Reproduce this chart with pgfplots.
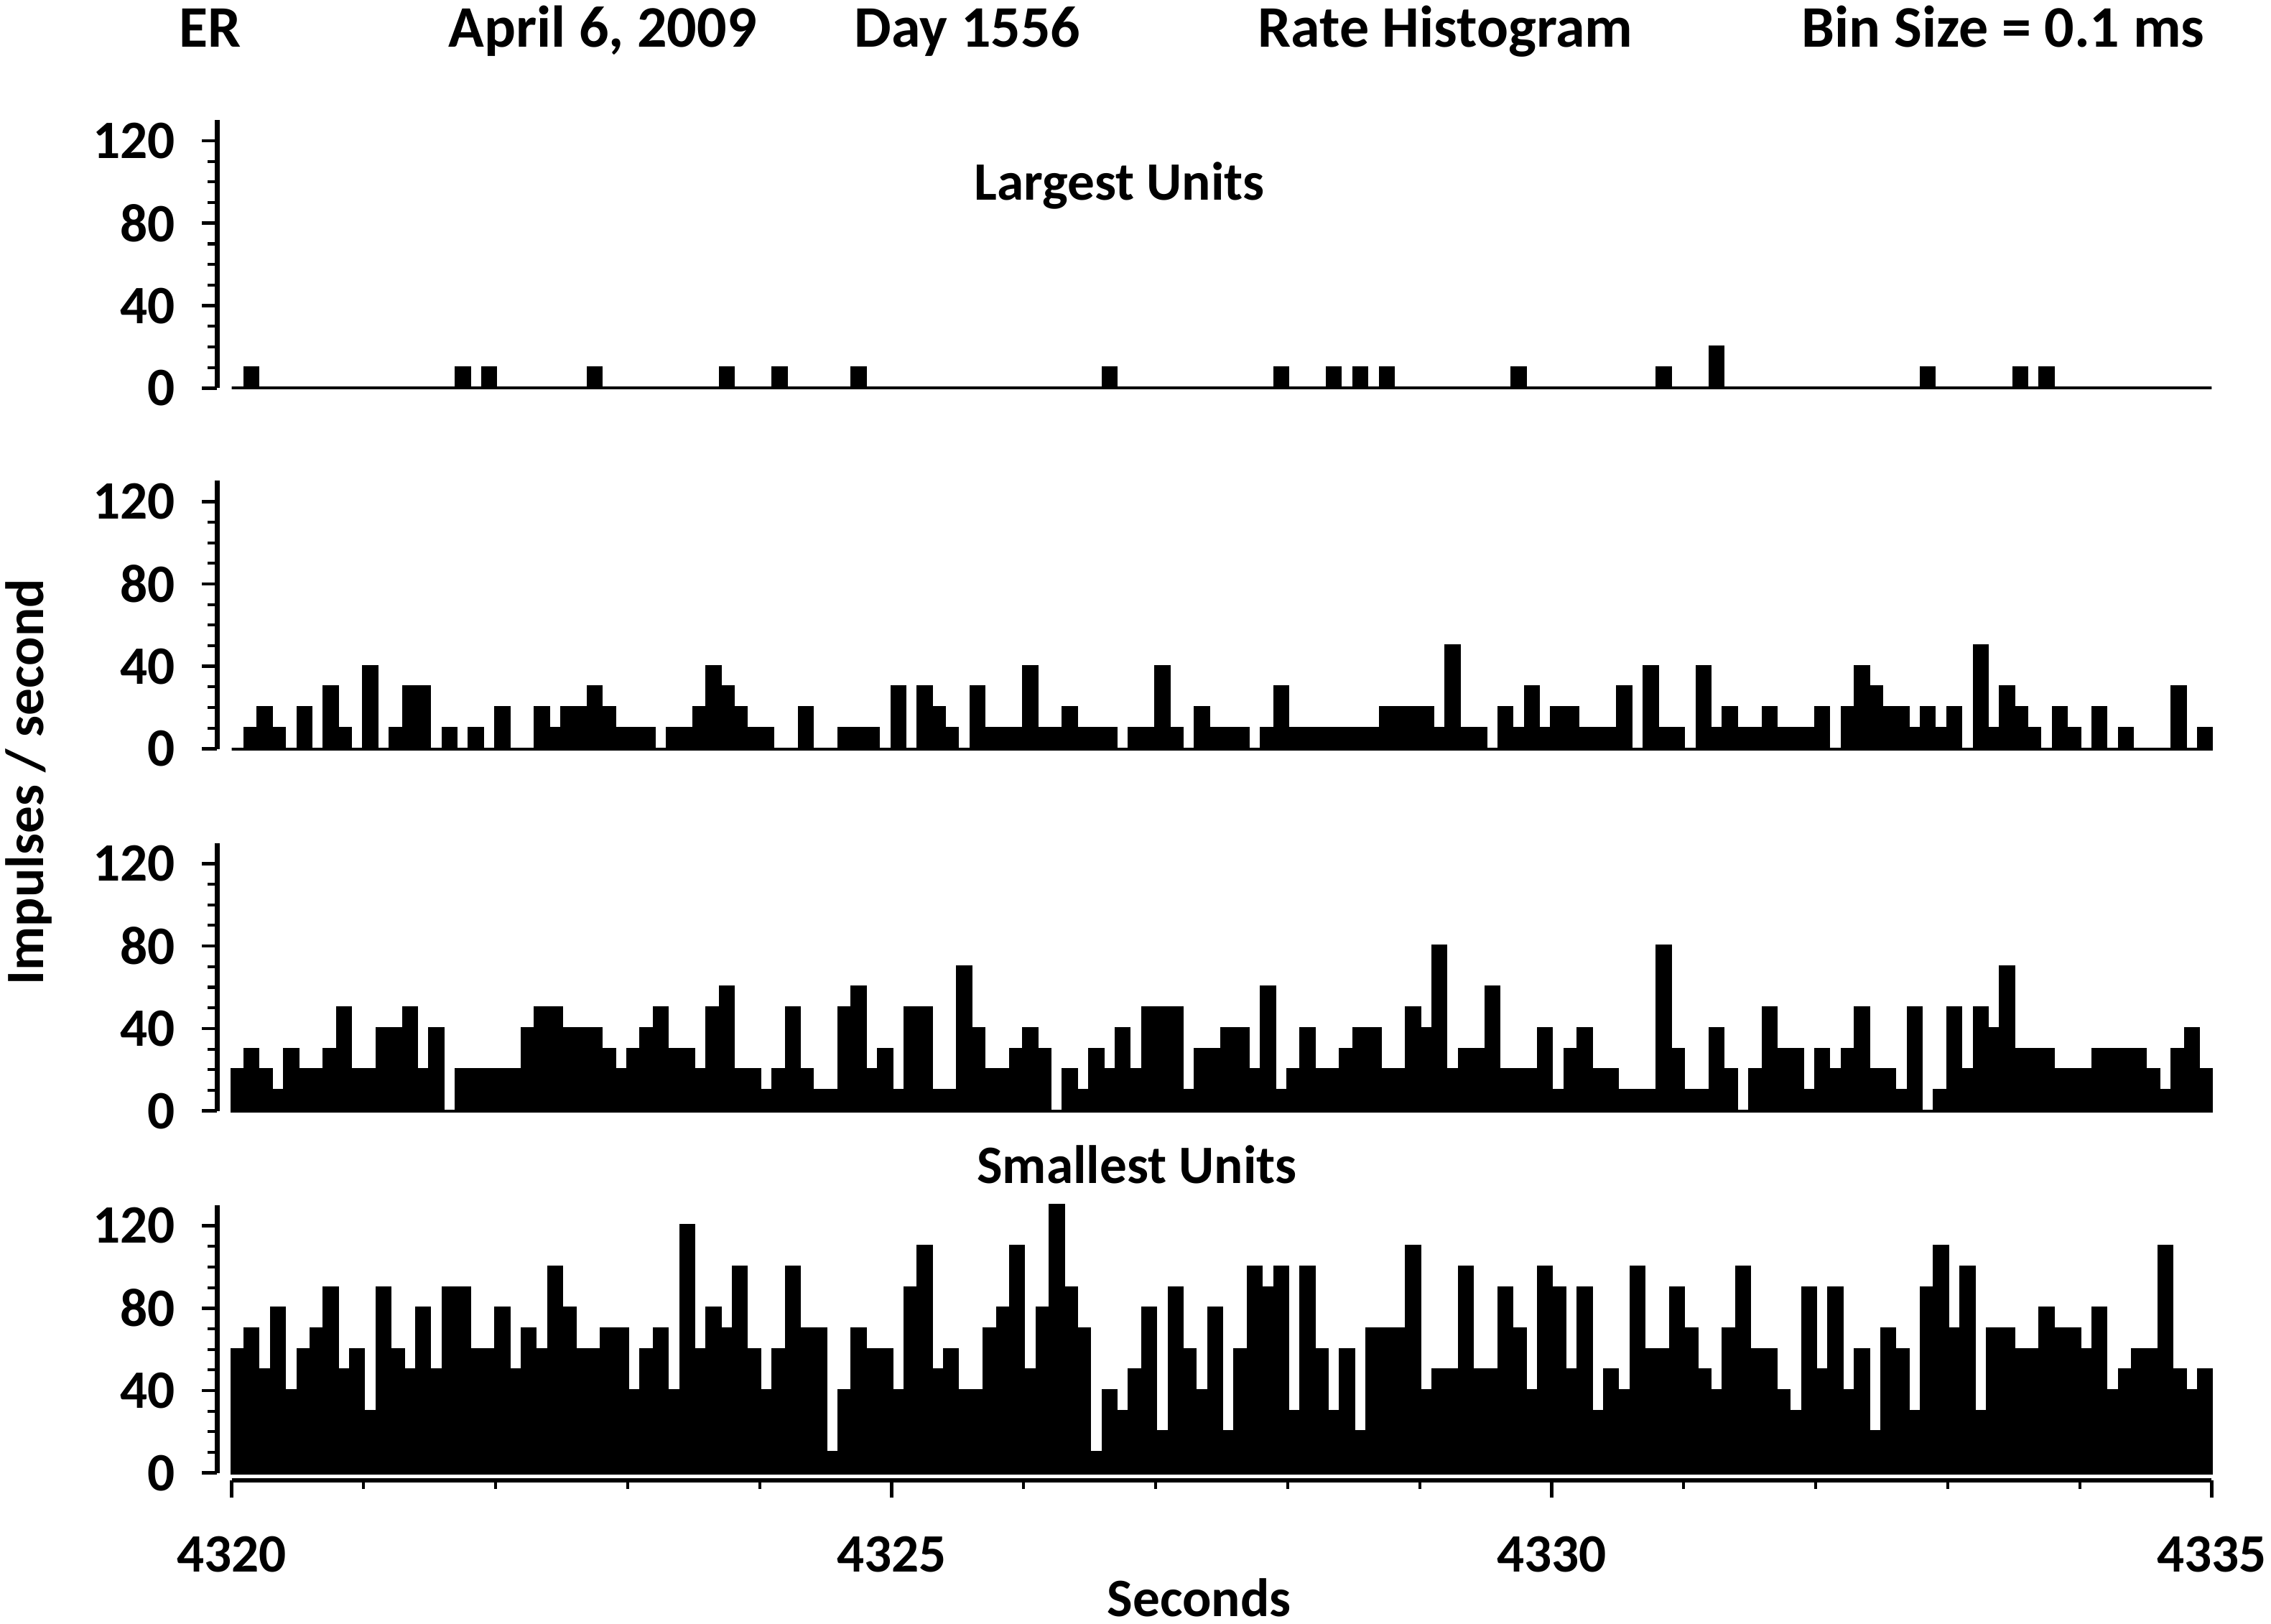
\documentclass[border=0pt]{standalone}
\usepackage{fontspec}
\setmainfont{Carlito}
\usepackage{pgfplots}
\usepackage{pgfplotstable}
\pgfplotsset{compat=1.18}

\pgfplotstableread{
t p1 p2 p3 p4
4320.0 0 0 20 60
4320.1 10 10 30 70
4320.2 0 20 20 50
4320.3 0 10 10 80
4320.4 0 0 30 40
4320.5 0 20 20 60
4320.6 0 0 20 70
4320.7 0 30 30 90
4320.8 0 10 50 50
4320.9 0 0 20 60
4321.0 0 40 20 30
4321.1 0 0 40 90
4321.2 0 10 40 60
4321.3 0 30 50 50
4321.4 0 30 20 80
4321.5 0 0 40 50
4321.6 0 10 0 90
4321.7 10 0 20 90
4321.8 0 10 20 60
4321.9 10 0 20 60
4322.0 0 20 20 80
4322.1 0 0 20 50
4322.2 0 0 40 70
4322.3 0 20 50 60
4322.4 0 10 50 100
4322.5 0 20 40 80
4322.6 0 20 40 60
4322.7 10 30 40 60
4322.8 0 20 30 70
4322.9 0 10 20 70
4323.0 0 10 30 40
4323.1 0 10 40 60
4323.2 0 0 50 70
4323.3 0 10 30 40
4323.4 0 10 30 120
4323.5 0 20 20 60
4323.6 0 40 50 80
4323.7 10 30 60 70
4323.8 0 20 20 100
4323.9 0 10 20 60
4324.0 0 10 10 40
4324.1 10 0 20 60
4324.2 0 0 50 100
4324.3 0 20 20 70
4324.4 0 0 10 70
4324.5 0 0 10 10
4324.6 0 10 50 40
4324.7 10 10 60 70
4324.8 0 10 20 60
4324.9 0 0 30 60
4325.0 0 30 10 40
4325.1 0 0 50 90
4325.2 0 30 50 110
4325.3 0 20 10 50
4325.4 0 10 10 60
4325.5 0 0 70 40
4325.6 0 30 40 40
4325.7 0 10 20 70
4325.8 0 10 20 80
4325.9 0 10 30 110
4326.0 0 40 40 50
4326.1 0 10 30 80
4326.2 0 10 0 130
4326.3 0 20 20 90
4326.4 0 10 10 70
4326.5 0 10 30 10
4326.6 10 10 20 40
4326.7 0 0 40 30
4326.8 0 10 20 50
4326.9 0 10 50 80
4327.0 0 40 50 20
4327.1 0 10 50 90
4327.2 0 0 10 60
4327.3 0 20 30 40
4327.4 0 10 30 80
4327.5 0 10 40 20
4327.6 0 10 40 60
4327.7 0 0 20 100
4327.8 0 10 60 90
4327.9 10 30 10 100
4328.0 0 10 20 30
4328.1 0 10 40 100
4328.2 0 10 20 60
4328.3 10 10 20 30
4328.4 0 10 30 60
4328.5 10 10 40 20
4328.6 0 10 40 70
4328.7 10 20 20 70
4328.8 0 20 20 70
4328.9 0 20 50 110
4329.0 0 20 40 40
4329.1 0 10 80 50
4329.2 0 50 20 50
4329.3 0 10 30 100
4329.4 0 10 30 50
4329.5 0 0 60 50
4329.6 0 20 20 90
4329.7 10 10 20 70
4329.8 0 30 20 40
4329.9 0 10 40 100
4330.0 0 20 10 90
4330.1 0 20 30 50
4330.2 0 10 40 90
4330.3 0 10 20 30
4330.4 0 10 20 50
4330.5 0 30 10 40
4330.6 0 0 10 100
4330.7 0 40 10 60
4330.8 10 10 80 60
4330.9 0 10 30 90
4331.0 0 0 10 70
4331.1 0 40 10 50
4331.2 20 10 40 40
4331.3 0 20 20 70
4331.4 0 10 0 100
4331.5 0 10 20 60
4331.6 0 20 50 60
4331.7 0 10 30 40
4331.8 0 10 30 30
4331.9 0 10 10 90
4332.0 0 20 30 50
4332.1 0 0 20 90
4332.2 0 20 30 40
4332.3 0 40 50 60
4332.4 0 30 20 20
4332.5 0 20 20 70
4332.6 0 20 10 60
4332.7 0 10 50 30
4332.8 10 20 0 90
4332.9 0 10 10 110
4333.0 0 20 50 70
4333.1 0 0 20 100
4333.2 0 50 50 30
4333.3 0 10 40 70
4333.4 0 30 70 70
4333.5 10 20 30 60
4333.6 0 10 30 60
4333.7 10 0 30 80
4333.8 0 20 20 70
4333.9 0 10 20 70
4334.0 0 0 20 60
4334.1 0 20 30 80
4334.2 0 0 30 40
4334.3 0 10 30 50
4334.4 0 0 30 60
4334.5 0 0 20 60
4334.6 0 0 10 110
4334.7 0 30 30 50
4334.8 0 0 40 40
4334.9 0 10 20 50
4335.0 0 10 20 50
}\data

\newcommand{\lf}{\fontsize{11.2}{13}\selectfont\bfseries}
\newcommand{\tf}{\fontsize{12.2}{14}\selectfont\bfseries}

\pgfplotsset{
  panel/.style={
    scale only axis, width=413.1pt, height=55.5pt,
    xmin=4319.89, xmax=4335, ymin=0, ymax=130,
    axis lines*=left, axis x line=none,
    clip=false,
    ytick={0,40,80,120}, minor y tick num=3,
    tick align=outside,
    major tick length=3.2pt, minor tick length=2pt,
    axis line style={line width=0.9pt, black},
    every tick/.style={line width=0.7pt, black},
    every minor tick/.style={line width=0.6pt, black},
    /pgf/number format/assume math mode=true,
    yticklabel style={font=\lf, xshift=-2pt},
  },
  hist/.style={const plot, fill=black, draw=black, line width=0.6pt, mark=none},
}

\begin{document}
\begin{tikzpicture}
\path[use as bounding box] (0,0) rectangle (470.4pt,336.3pt);

\begin{axis}[panel, at={(45pt,255.9pt)}, anchor=south west]
\addplot[hist] table[x=t,y=p1] {\data} \closedcycle;
\end{axis}

\begin{axis}[panel, at={(45pt,181.2pt)}, anchor=south west]
\addplot[hist] table[x=t,y=p2] {\data} \closedcycle;
\end{axis}

\begin{axis}[panel, at={(45pt,106.2pt)}, anchor=south west]
\addplot[hist] table[x=t,y=p3] {\data} \closedcycle;
\end{axis}

\begin{axis}[panel, at={(45pt,31.2pt)}, anchor=south west]
\addplot[hist] table[x=t,y=p4] {\data} \closedcycle;
\end{axis}

% separate bottom time axis
\begin{axis}[scale only axis, width=410.1pt, height=8pt,
  at={(48pt,29.7pt)}, anchor=south west,
  xmin=4320, xmax=4335, ymin=0, ymax=1,
  axis x line*=bottom, axis y line=none,
  xtick={4320,4325,4330,4335}, minor x tick num=4,
  tick align=outside,
  major tick length=3.6pt, minor tick length=1.8pt,
  axis line style={line width=0.9pt, black},
  every tick/.style={line width=0.7pt, black},
  every minor tick/.style={line width=0.6pt, black},
  /pgf/number format/assume math mode=true,
  /pgf/number format/1000 sep={},
  xticklabel style={font=\lf, yshift=-4.5pt},
]
\end{axis}

% titles
\node[font=\tf, anchor=base] at (43.5pt,326.5pt) {ER};
\node[font=\tf, anchor=base] at (124.8pt,326.5pt) {April 6, 2009};
\node[font=\tf, anchor=base] at (200.4pt,326.5pt) {Day 1556};
\node[font=\tf, anchor=base] at (299.4pt,326.5pt) {Rate Histogram};
\node[font=\tf, anchor=base] at (414.9pt,326.5pt) {Bin Size = 0.1 ms};

\node[font=\lf] at (231.9pt,297.9pt) {Largest Units};
\node[font=\lf] at (235.5pt,95.1pt) {Smallest Units};
\node[font=\lf] at (248.4pt,5.4pt) {Seconds};
\node[font=\lf, rotate=90] at (6pt,174.3pt) {Impulses / second};
\end{tikzpicture}
\end{document}
